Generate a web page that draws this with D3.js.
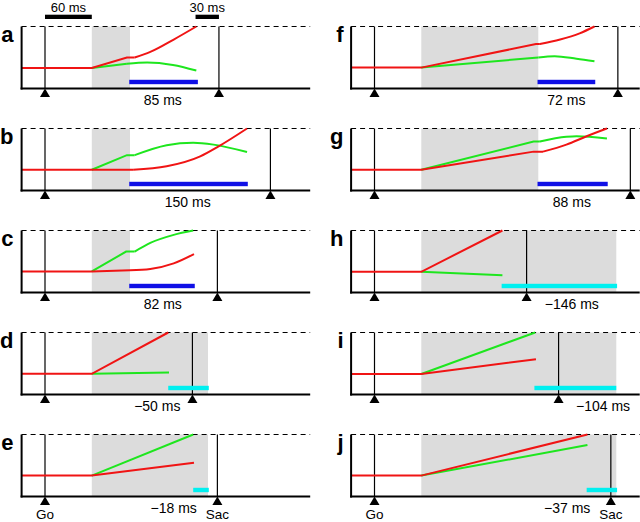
<!DOCTYPE html>
<html><head><meta charset="utf-8">
<script src="https://cdn.jsdelivr.net/npm/d3@7"></script>
<style>body{margin:0;background:#fff}svg{display:block}text{font-family:Arial,"Liberation Sans",Helvetica,sans-serif}</style>
</head><body><svg id="c" width="640" height="522"></svg>
<script>
// ---- data (time in ms relative to Go; activation: 0 = floor, 1 = threshold) ----
const panelIds = ["a","b","c","d","e","f","g","h","i","j"];
const grayStart = 60;
const grayEnd  = [109,109,109,209,209,210,210,310,310,310];
const sacTime  = [223,289,221,189,221,312,328,195,236,303];
const barStart = [108,108,108,158,190,209,209,163,205,272];
const barEnd   = [196,260,192,210,210,283,299,311,310,311];
const barKind  = ["blue","blue","blue","cyan","cyan","blue","blue","cyan","cyan","cyan"];
const barLabels = ["85 ms","150 ms","82 ms","\u221250 ms","\u221218 ms","72 ms","88 ms","\u2212146 ms","\u2212104 ms","\u221237 ms"];
const labelTime = [151,183,151,144,165,246,253,253,293,247];
const barLevel = 0.105;
const scaleBarLabels = ["60 ms","30 ms"];

const redLinear = [
  [[-30,.33],[60,.33],[105,.50],[115,.50]],
  [[-30,.335],[113,.335]],
  [[-30,.34],[60,.34],[109,.36]],
  [[-30,.334],[60,.334],[158,1.0]],
  [[-30,.337],[60,.337],[191,.545]],
  [[-30,.337],[60,.337],[207,.717],[212,.717]],
  [[-30,.335],[60,.335],[204,.627],[216,.627]],
  [[-30,.334],[60,.334],[164,1.0]],
  [[-30,.33],[60,.33],[207,.57]],
  [[-30,.337],[60,.337],[273,1.0]]
];
const redCurve = [
  [[115,.50],[135,.59],[165,.79],[194,1.0]],
  [[113,.335],[156,.39],[199,.55],[221,.70],[259,1.0]],
  [[109,.36],[135,.38],[165,.47],[191,.62]],
  [], [],
  [[212,.717],[238,.79],[263,.89],[282,1.0]],
  [[216,.627],[246,.74],[272,.875],[298,1.0]],
  [], [], []
];
const greenLinear = [
  [[60,.33],[105,.40]],
  [[60,.335],[105,.57],[115,.57]],
  [[60,.34],[104,.66],[115,.66]],
  [[60,.334],[159,.356]],
  [[60,.337],[190,1.0]],
  [[60,.337],[210,.50]],
  [[60,.335],[204,.79],[212,.79]],
  [[60,.334],[164,.28]],
  [[60,.33],[206,1.0]],
  [[60,.337],[273,.83]]
];
const greenCurve = [
  [[105,.40],[131,.42],[164,.38],[194,.29]],
  [[115,.57],[156,.73],[190,.77],[216,.74],[259,.62]],
  [[115,.66],[135,.80],[165,.93],[190,1.0]],
  [], [],
  [[210,.50],[231,.52],[259,.48],[282,.44]],
  [[212,.79],[246,.865],[259,.875],[298,.84]],
  [], [], []
];

// ---- layout ----
const svg = d3.select("#c");
const colLeft = [21.6, 351.1];
const pxPerMs = 0.78;
const tDomain = [-30, 340];
const panelH = 62;
const colors = {red:"#f01414", green:"#1ee61e", blue:"#1010e6", cyan:"#00f0f0", gray:"#dcdcdc"};

panelIds.forEach((id, i) => {
  const col = Math.floor(i / 5), row = i % 5;
  const top = 26.5 + row * 102, bot = top + panelH;
  const x = d3.scaleLinear().domain(tDomain).range([colLeft[col], colLeft[col] + (tDomain[1]-tDomain[0]) * pxPerMs]);
  const y = d3.scaleLinear().domain([0, 1]).range([bot, top]);
  const g = svg.append("g");

  g.append("rect").attr("x", x(grayStart)).attr("y", y(1)).attr("width", x(grayEnd[i]) - x(grayStart))
    .attr("height", y(0) - y(1)).attr("fill", colors.gray);

  // threshold dashed line
  g.append("line").attr("x1", x(tDomain[0])).attr("x2", x(tDomain[1])).attr("y1", y(1)).attr("y2", y(1))
    .attr("stroke", "#000").attr("stroke-width", 1).attr("stroke-dasharray", "5,4");

  // Go & Sac markers
  [0, sacTime[i]].forEach(t => {
    g.append("line").attr("x1", x(t)).attr("x2", x(t)).attr("y1", y(1)).attr("y2", y(0))
      .attr("stroke", "#000").attr("stroke-width", 1.2);
    g.append("path").attr("d", `M${x(t)},${y(0)}L${x(t)-5},${y(0)+8.5}L${x(t)+5},${y(0)+8.5}Z`).attr("fill", "#000");
  });

  // bar
  g.append("rect").attr("x", x(barStart[i])).attr("y", y(barLevel) - 2.2)
    .attr("width", x(barEnd[i]) - x(barStart[i])).attr("height", 4.4).attr("fill", colors[barKind[i]]);

  const lin = d3.line().x(d => x(d[0])).y(d => y(d[1]));
  const smooth = d3.line().x(d => x(d[0])).y(d => y(d[1])).curve(d3.curveMonotoneX);
  [["green", greenLinear[i], greenCurve[i]], ["red", redLinear[i], redCurve[i]]].forEach(([c, L, C]) => {
    g.append("path").attr("d", lin(L)).attr("fill", "none").attr("stroke", colors[c]).attr("stroke-width", 2);
    if (C.length) g.append("path").attr("d", smooth(C)).attr("fill", "none").attr("stroke", colors[c]).attr("stroke-width", 2);
  });

  // axes
  g.append("line").attr("x1", x(tDomain[0])).attr("x2", x(tDomain[0])).attr("y1", y(1)).attr("y2", y(0) + 1)
    .attr("stroke", "#000").attr("stroke-width", 2);
  g.append("line").attr("x1", x(tDomain[0]) - 1).attr("x2", x(tDomain[1])).attr("y1", y(0)).attr("y2", y(0))
    .attr("stroke", "#000").attr("stroke-width", 2);

  // labels
  g.append("text").attr("x", x(labelTime[i])).attr("y", bot + 16).attr("text-anchor", "middle")
    .attr("font-size", 14).text(barLabels[i]);
  g.append("text").attr("x", col === 0 ? 13.5 : 343.5).attr("y", top + 15.5).attr("text-anchor", "end")
    .attr("font-size", 22).attr("font-weight", "bold").text(id);

  if (row === 4) {
    g.append("text").attr("x", x(0)).attr("y", 518.5).attr("text-anchor", "middle").attr("font-size", 13.5).text("Go");
    g.append("text").attr("x", x(sacTime[i])).attr("y", 518.5).attr("text-anchor", "middle").attr("font-size", 13.5).text("Sac");
  }
  if (i === 0) {
    const sb = [[0, 60], [sacTime[i] - 30, sacTime[i]]];
    sb.forEach((s, k) => {
      g.append("rect").attr("x", x(s[0])).attr("y", 14.7).attr("width", x(s[1]) - x(s[0])).attr("height", 4.3).attr("fill", "#000");
      g.append("text").attr("x", (x(s[0]) + x(s[1])) / 2).attr("y", 11.5).attr("text-anchor", "middle")
        .attr("font-size", 13).text(scaleBarLabels[k]);
    });
  }
});
</script></body></html>
